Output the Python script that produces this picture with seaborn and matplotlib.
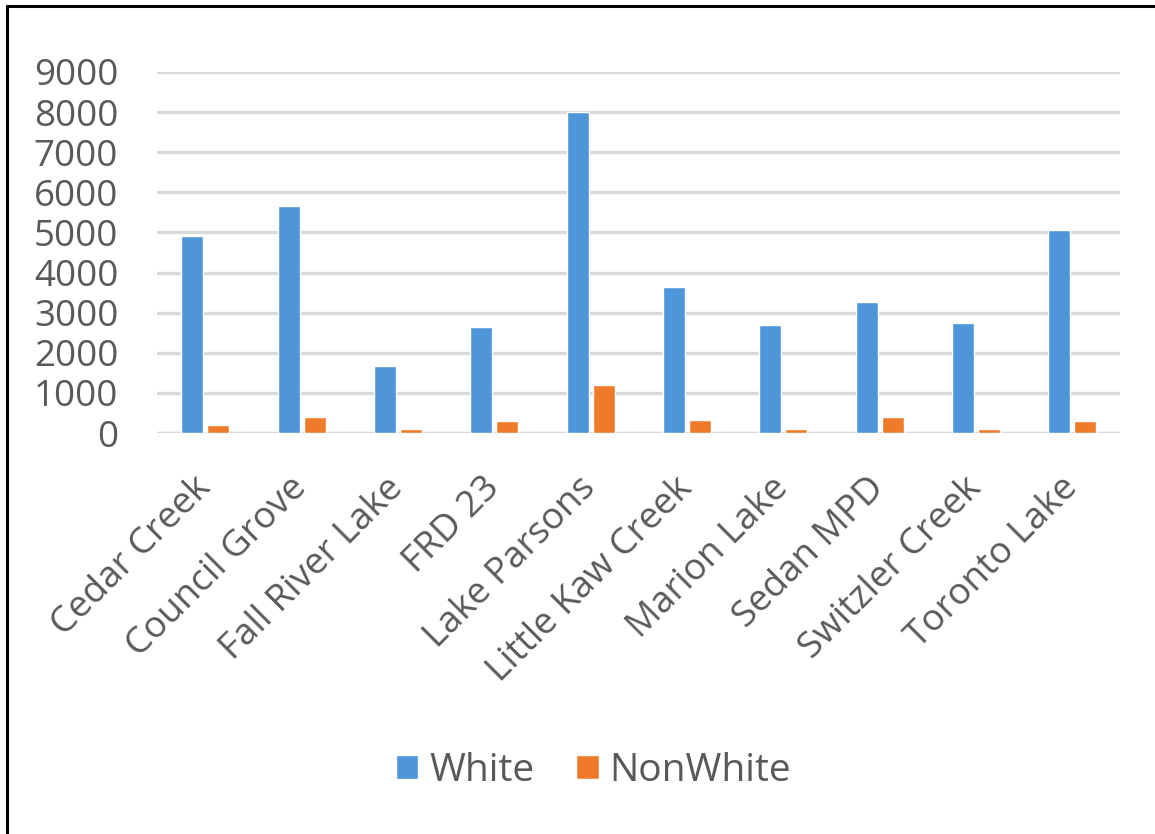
import pandas as pd
import seaborn as sns
from matplotlib import pyplot as plt
from matplotlib.lines import Line2D

lakes = ["Cedar Creek", "Council Grove", "Fall River Lake", "FRD 23", "Lake Parsons",
         "Little Kaw Creek", "Marion Lake", "Sedan MPD", "Switzler Creek", "Toronto Lake"]
white = [4920, 5650, 1680, 2650, 8000, 3630, 2700, 3270, 2750, 5070]
nonwhite = [210, 400, 100, 300, 1200, 330, 100, 400, 100, 300]
series = ["White", "NonWhite"]
yticks = [0, 1000, 2000, 3000, 4000, 5000, 6000, 7000, 8000, 9000]

df = pd.DataFrame({
    "Lake": lakes * 2,
    "Group": ["White"] * len(lakes) + ["NonWhite"] * len(lakes),
    "Count": white + nonwhite,
})

sns.set_style("white")
plt.rcParams["font.family"] = ["Open Sans", "DejaVu Sans"]
textcol = "#595959"

fig = plt.figure(figsize=(11.55, 8.34), dpi=100)
ax = fig.add_axes([0.136, 0.4808, 0.834, 0.4329])

sns.barplot(
    data=df, x="Lake", y="Count", hue="Group", hue_order=series,
    palette=["#4F95DA", "#EE7A2C"], width=0.54, gap=0.155,
    saturation=1, ax=ax, legend=True,
)

ax.set_ylim(0, 9000)
ax.set_xlim(-0.5, len(lakes) - 0.5)
ax.set_yticks(yticks)
ax.yaxis.grid(True, color="#d9d9d9", linewidth=2.4)
ax.set_axisbelow(True)
for s in ax.spines.values():
    s.set_visible(False)
ax.axhline(0, color="#d0d0d0", linewidth=2.4, zorder=0.5)
ax.set_xlabel("")
ax.set_ylabel("")
ax.tick_params(axis="y", labelsize=26.5, labelcolor=textcol, length=0, pad=28)
ax.tick_params(axis="x", labelsize=26.5, labelcolor=textcol, length=0, pad=36)
for lab in ax.get_xticklabels():
    lab.set_rotation(45)
    lab.set_ha("right")
    lab.set_va("center")
    lab.set_rotation_mode("anchor")

ax.legend(loc="center", bbox_to_anchor=(0.514, 0.0755), bbox_transform=fig.transFigure,
          ncol=2, frameon=False, fontsize=28, labelcolor=textcol,
          handlelength=0.57, handleheight=0.57, handletextpad=0.28, columnspacing=1.08)

# frame lines (top and left) of the original screenshot
fig.add_artist(Line2D([7 / 1155, 7 / 1155], [0, 1 - 6 / 834], color="black", linewidth=2.2,
                      transform=fig.transFigure))
fig.add_artist(Line2D([7 / 1155, 1], [1 - 6 / 834, 1 - 6 / 834], color="black", linewidth=2.2,
                      transform=fig.transFigure))

plt.savefig("out.png", dpi=100)
plt.close()
